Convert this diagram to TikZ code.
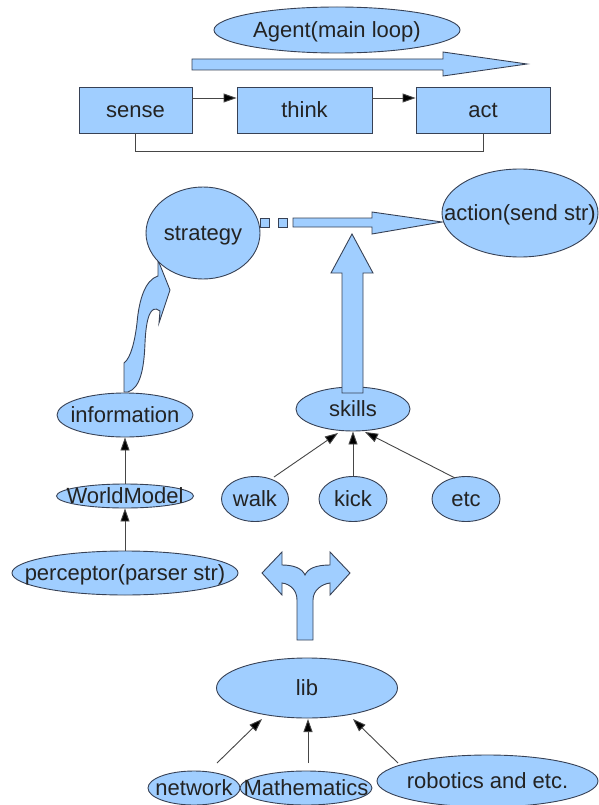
\documentclass[tikz,border=0pt]{standalone}
\usepackage{fontspec}
\setmainfont{Liberation Sans}
\usetikzlibrary{shapes.geometric,arrows.meta,calc}
\definecolor{fillblue}{RGB}{160,206,255}
\definecolor{edgecol}{RGB}{55,65,85}
\definecolor{txtcol}{RGB}{35,35,35}
\definecolor{conncol}{RGB}{70,70,70}
\newcommand{\lbl}[1]{\makebox[0pt]{\smash{\raisebox{-0.36em}{#1}}}}
\tikzset{
  blob/.style={ellipse, draw=edgecol, fill=fillblue, inner sep=0pt, line width=0.9pt,
    font=\fontsize{22}{26}\selectfont, text=txtcol},
  boxnode/.style={rectangle, draw=edgecol, fill=fillblue, inner sep=0pt, line width=0.9pt,
    minimum height=46pt, font=\fontsize{22}{26}\selectfont, text=txtcol},
  connline/.style={draw=conncol, line width=0.9pt, -{Triangle[length=13pt,width=9pt,fill=black]}},
  plainline/.style={draw=conncol, line width=0.9pt},
  blockarrow/.style={draw=edgecol, fill=fillblue, line width=0.9pt, line join=miter}
}
\begin{document}
\begin{tikzpicture}[x=1pt,y=-1pt]
\useasboundingbox (0,0) rectangle (598,805);

% ---- top: agent main loop ----
\node[blob, minimum width=246pt, minimum height=46pt] (agent) at (337,30) {\lbl{Agent(main loop)}};
\draw[blockarrow] (192,59) -- (443,59) -- (443,52) -- (527,64) -- (443,76) -- (443,70) -- (192,70) -- cycle;

\node[boxnode, minimum width=113pt] (sense) at (135.5,110) {\lbl{sense}};
\node[boxnode, minimum width=135pt] (think) at (304.5,110) {\lbl{think}};
\node[boxnode, minimum width=134pt] (act) at (483,110) {\lbl{act}};
\draw[connline] ([yshift=12pt]sense.east) -- ([yshift=12pt]think.west);
\draw[connline] ([yshift=12pt]think.east) -- ([yshift=12pt]act.west);
\draw[plainline] (sense.south) -- ([yshift=-18pt]sense.south) -| (act.south);

% ---- block arrows (drawn before the ellipses) ----
% S-shaped arrow from information to strategy
\draw[blockarrow] (124,392) -- (124,363) .. controls (131,358) and (135,340) .. (137,323)
  .. controls (139,300) and (145,280) .. (158,276) -- (158,260) -- (170,290) -- (159,323)
  -- (160,311) .. controls (150,303) and (146,320) .. (145,343)
  .. controls (144,370) and (140,388) .. (128,392) -- cycle;
% dashed thick arrow strategy -> action
\draw[blockarrow] (260,218) rectangle (269,227);
\draw[blockarrow] (278,218) rectangle (287,227);
\draw[blockarrow] (293,218) -- (372,218) -- (372,212) -- (442,222) -- (372,234) -- (372,227) -- (293,227) -- cycle;
% fork arrow above lib
\draw[blockarrow] (297,640) -- (297,600) .. controls (297,590) and (290,584) .. (282,583)
  -- (282,595) -- (262,573) -- (282,552) -- (282,565)
  .. controls (293,565) and (302,568) .. (305,575)
  .. controls (308,568) and (317,565) .. (330,565)
  -- (330,552) -- (350,573) -- (330,595) -- (330,583)
  .. controls (322,584) and (313,590) .. (313,600) -- (313,640) -- cycle;

% ---- middle ----
\node[blob, minimum width=114pt, minimum height=92pt] (strategy) at (203,233) {\lbl{strategy}};
\node[blob, minimum width=156pt, minimum height=88pt] (action) at (520,213) {\lbl{action(send str)}};

\node[blob, minimum width=136pt, minimum height=44pt] (information) at (125,415) {\lbl{information}};
\node[blob, minimum width=137pt, minimum height=24pt] (worldmodel) at (125,496) {\lbl{WorldModel}};
\node[blob, minimum width=226pt, minimum height=44pt] (perceptor) at (125,573) {\lbl{perceptor(parser str)}};
\draw[connline] (worldmodel) -- (information);
\draw[connline] (perceptor) -- (worldmodel);

\node[blob, minimum width=114pt, minimum height=44pt] (skills) at (353,409) {\lbl{skills}};
% thick up arrow skills -> main arrow (drawn over skills)
\draw[blockarrow] (342,393) -- (342,273) -- (331,273) -- (352,234) -- (373,273) -- (363,273) -- (363,393) -- cycle;

\node[blob, minimum width=67pt, minimum height=45pt] (walk) at (255,499) {\lbl{walk}};
\node[blob, minimum width=68pt, minimum height=45pt] (kick) at (353,499) {\lbl{kick}};
\node[blob, minimum width=68pt, minimum height=45pt] (etc) at (466,499) {\lbl{etc}};
\draw[connline] ([xshift=19pt,yshift=22pt]walk.center) -- ([xshift=-15pt,yshift=-24pt]skills.center);
\draw[connline] (kick.north) -- (skills.south);
\draw[connline] ([xshift=-11pt,yshift=21pt]etc.center) -- ([xshift=12pt,yshift=-23pt]skills.center);

% ---- bottom ----
\node[blob, minimum width=181pt, minimum height=60pt] (lib) at (307,688) {\lbl{lib}};
\node[blob, minimum width=92pt, minimum height=34pt] (network) at (194,788) {\lbl{network}};
\node[blob, minimum width=132pt, minimum height=34pt] (math) at (306,788) {\lbl{Mathematics}};
\node[blob, minimum width=221pt, minimum height=52pt] (robotics) at (487.5,781) {\lbl{robotics and etc.}};
\draw[connline] ([xshift=23pt,yshift=25pt]network.center) -- ([xshift=-45pt,yshift=-31pt]lib.center);
\draw[connline] ([xshift=2pt,yshift=25pt]math.center) -- ([xshift=1pt,yshift=-31pt]lib.center);
\draw[connline] ([xshift=-89.5pt,yshift=18pt]robotics.center) -- ([xshift=46pt,yshift=-31pt]lib.center);
\end{tikzpicture}
\end{document}
